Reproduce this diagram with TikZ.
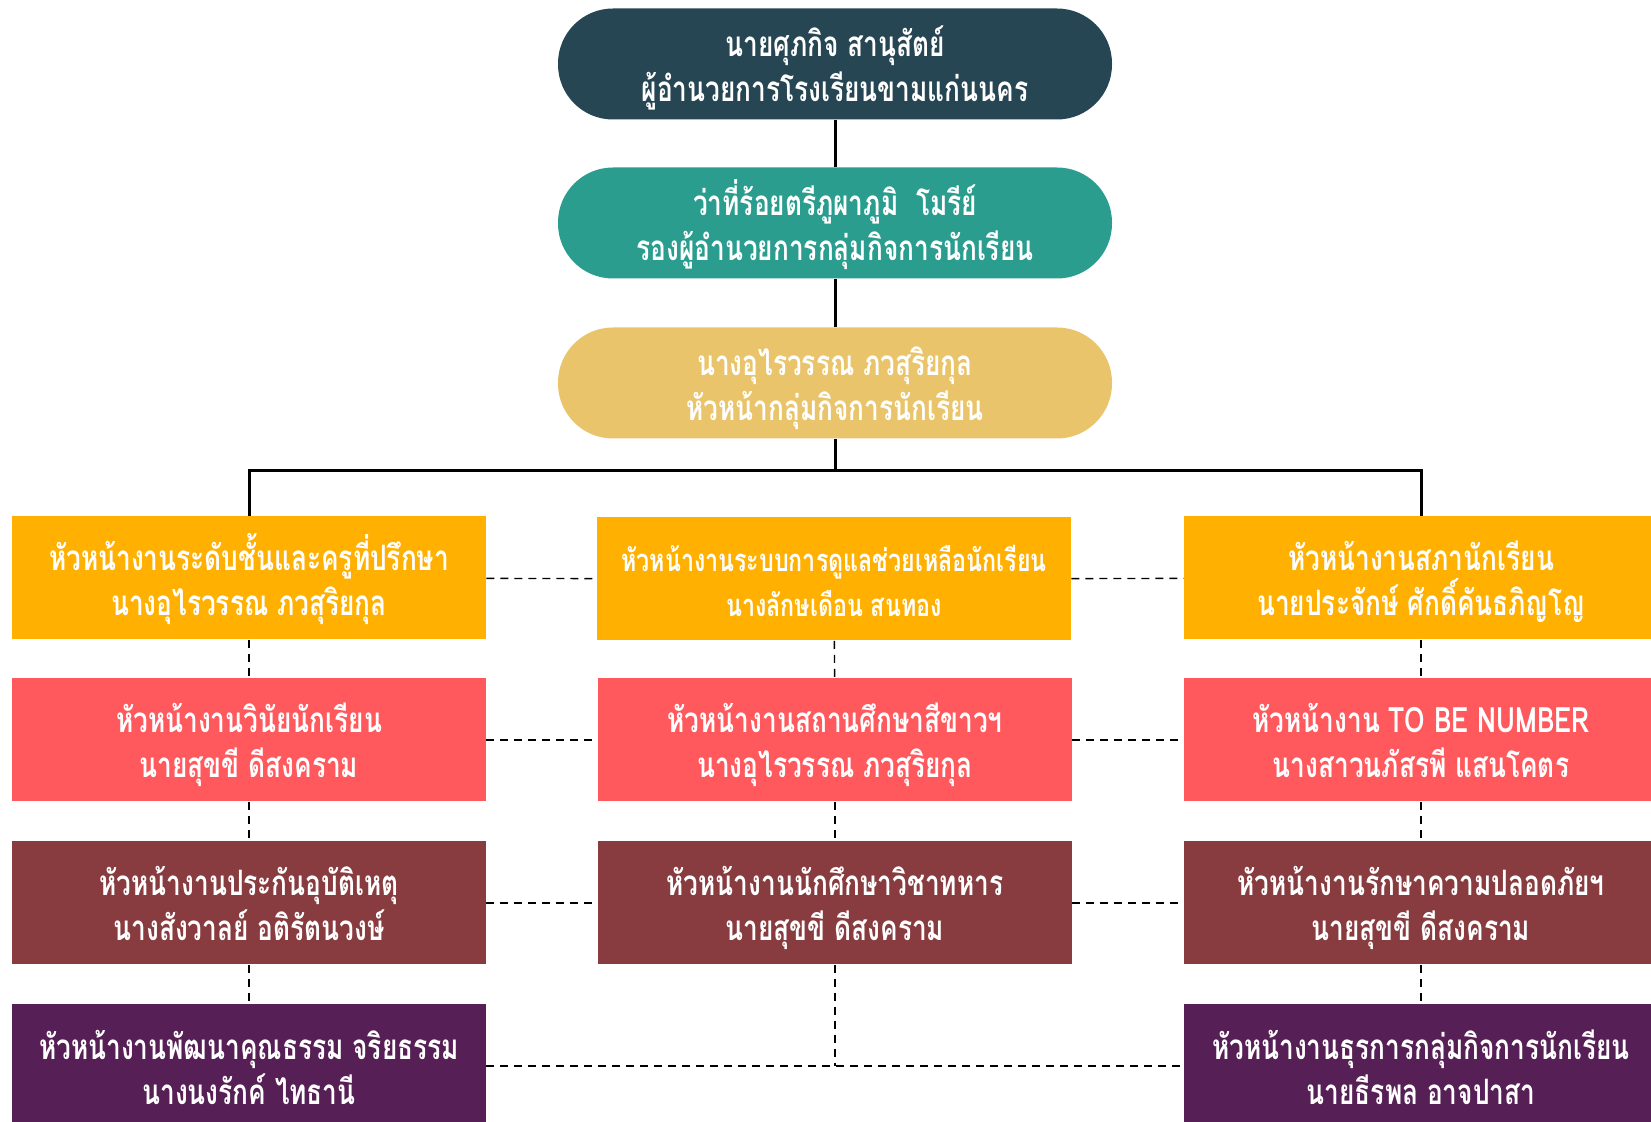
\documentclass[tikz,border=0pt]{standalone}
\usepackage{fontspec}
\newfontfamily\thaifont[Script=Thai,FakeStretch=0.75]{Loma}
\definecolor{cdir}{HTML}{264653}
\definecolor{cdep}{HTML}{2A9D8F}
\definecolor{chead}{HTML}{E9C46A}
\definecolor{camber}{HTML}{FFB000}
\definecolor{ccoral}{HTML}{FF595E}
\definecolor{cmaroon}{HTML}{883C3F}
\definecolor{cpurple}{HTML}{561F55}
\tikzset{
  txt/.style={text=white, align=center, inner sep=0pt, text height=38pt, text depth=0pt,
    font=\thaifont\bfseries\fontsize{17.5}{22.5}\selectfont},
  pill/.style={txt, rectangle, rounded corners=27.5pt, minimum width=277pt, minimum height=55.5pt},
  unitbox/.style={txt, rectangle, minimum width=237pt, minimum height=61.5pt},
  solidline/.style={line width=1.5pt, black},
  dashline/.style={line width=0.7pt, black, dash pattern=on 4pt off 3pt},
}
\begin{document}
\begin{tikzpicture}[x=0.5pt, y=-0.5pt]
\useasboundingbox (0,0) rectangle (1651,1122);
\clip (0,0) rectangle (1651,1122);
\fill[white] (0,0) rectangle (1651,1122);

% top chain
\node[pill, fill=cdir]  (dir)  at (835,64)  {นายศุภกิจ สานุสัตย์\\ผู้อำนวยการโรงเรียนขามแก่นนคร};
\node[pill, fill=cdep]  (dep)  at (835,223) {ว่าที่ร้อยตรีภูผาภูมิ\ \ โมรีย์\\รองผู้อำนวยการกลุ่มกิจการนักเรียน};
\node[pill, fill=chead] (head) at (835,383) {นางอุไรวรรณ ภวสุริยกุล\\หัวหน้ากลุ่มกิจการนักเรียน};

% row 1
\node[unitbox, fill=camber] (L1) at (249,578) {หัวหน้างานระดับชั้นและครูที่ปรึกษา\\นางอุไรวรรณ ภวสุริยกุล};
\node[unitbox, fill=camber, font=\thaifont\bfseries\fontsize{15.5}{22.5}\selectfont] (M1) at (834,579) {หัวหน้างานระบบการดูแลช่วยเหลือนักเรียน\\นางลักษเดือน สนทอง};
\node[unitbox, fill=camber] (R1) at (1421,578) {หัวหน้างานสภานักเรียน\\นายประจักษ์ ศักดิ์คันธภิญโญ};
% row 2
\node[unitbox, fill=ccoral] (L2) at (249,740) {หัวหน้างานวินัยนักเรียน\\นายสุขขี ดีสงคราม};
\node[unitbox, fill=ccoral] (M2) at (835,740) {หัวหน้างานสถานศึกษาสีขาวฯ\\นางอุไรวรรณ ภวสุริยกุล};
\node[unitbox, fill=ccoral] (R2) at (1421,740) {หัวหน้างาน TO BE NUMBER\\นางสาวนภัสรพี แสนโคตร};
% row 3
\node[unitbox, fill=cmaroon] (L3) at (249,903) {หัวหน้างานประกันอุบัติเหตุ\\นางสังวาลย์ อติรัตนวงษ์};
\node[unitbox, fill=cmaroon] (M3) at (835,903) {หัวหน้างานนักศึกษาวิชาทหาร\\นายสุขขี ดีสงคราม};
\node[unitbox, fill=cmaroon] (R3) at (1421,903) {หัวหน้างานรักษาความปลอดภัยฯ\\นายสุขขี ดีสงคราม};
% row 4
\node[unitbox, fill=cpurple] (L4) at (249,1066) {หัวหน้างานพัฒนาคุณธรรม จริยธรรม\\นางนงรักค์ ไทธานี};
\node[unitbox, fill=cpurple] (R4) at (1421,1066) {หัวหน้างานธุรการกลุ่มกิจการนักเรียน\\นายธีรพล อาจปาสา};

\coordinate (bar) at (835,471);
\coordinate (m4) at (835,1066);

% solid connectors
\draw[solidline] (dir) -- (dep);
\draw[solidline] (dep) -- (head);
\draw[solidline] (head) -- (bar);
\draw[solidline] (L1.north) |- (bar) -| (R1.north);

% dashed connectors: vertical
\draw[dashline] (L1) -- (L2);
\draw[dashline] (L2) -- (L3);
\draw[dashline] (L3) -- (L4);
\draw[dashline] (M1) -- (M2);
\draw[dashline] (M2) -- (M3);
\draw[dashline] (M3) -- (m4);
\draw[dashline] (R1) -- (R2);
\draw[dashline] (R2) -- (R3);
\draw[dashline] (R3) -- (R4);
% dashed connectors: horizontal
\draw[dashline] (L1) -- (M1);
\draw[dashline] (M1) -- (R1);
\draw[dashline] (L2) -- (M2);
\draw[dashline] (M2) -- (R2);
\draw[dashline] (L3) -- (M3);
\draw[dashline] (M3) -- (R3);
\draw[dashline] (L4) -- (R4);
\end{tikzpicture}
\end{document}
